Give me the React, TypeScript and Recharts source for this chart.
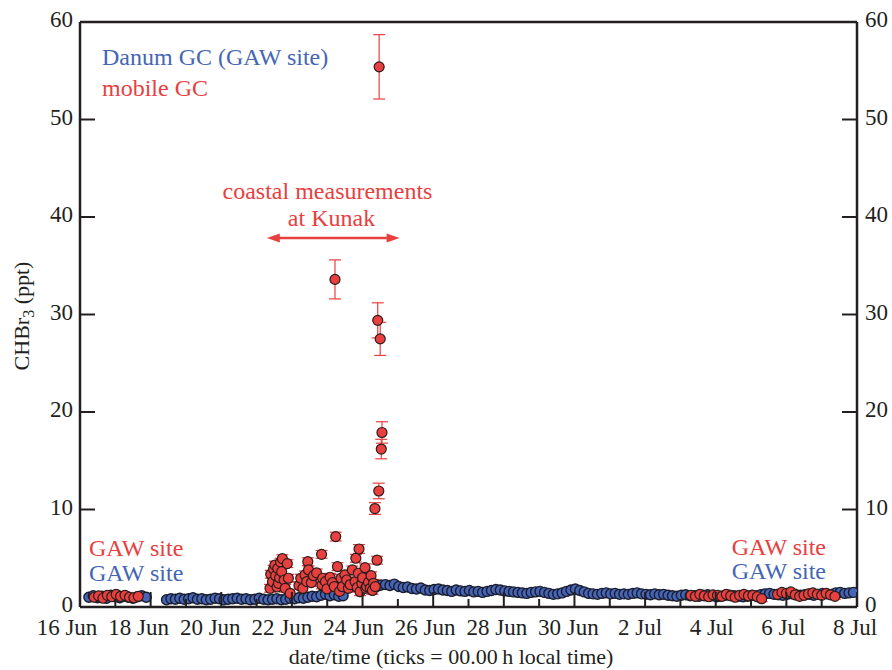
import { ScatterChart, Scatter, XAxis, YAxis, ErrorBar, ReferenceLine } from 'recharts';

const FONT = '"Liberation Serif", "Times New Roman", serif';
const INK = '#231f20';
const BLUE = '#4565b8';
const BLUE_TEXT = '#4466b3';
const RED = '#e8403f';

// x axis: days since 16 Jun 00:00 local time
const dayTicks = [0, 1, 2, 3, 4, 5, 6, 7, 8, 9, 10, 11, 12, 13, 14, 15, 16, 17, 18, 19, 20, 21, 22];
const dayLabels: Record<number, string> = {
  0: '16 Jun', 2: '18 Jun', 4: '20 Jun', 6: '22 Jun', 8: '24 Jun', 10: '26 Jun',
  12: '28 Jun', 14: '30 Jun', 16: '2 Jul', 18: '4 Jul', 20: '6 Jul', 22: '8 Jul',
};
const yTicks = [0, 10, 20, 30, 40, 50, 60];

// sampling interval of the GC runs (3 h, in days)
const STEP = 1 / 8;

// Danum GC (GAW site), runs of samples: start day + values (ppt)
const danumStart1 = 0.25;
const danumRun1 = [1.0, 1.15, 0.95, 1.1, 0.9, 1.2, 1.05, 0.95, 1.1, 1.0, 0.9, 1.05, 1.15, 1.0];
const danumStart2 = 2.45;
const danumRun2 = [
  0.75, 0.85, 0.8, 0.9, 0.8, 0.85, 0.95, 0.8,
  0.85, 0.75, 0.8, 0.9, 0.85, 0.75, 0.8, 0.85,
  0.9, 0.8, 0.85, 0.75, 0.8, 0.9, 0.8, 0.75,
  0.8, 0.85, 0.75, 0.8, 0.9, 0.85, 0.95, 0.9,
  1.0, 1.1, 1.05, 1.2, 1.3, 1.15, 1.25, 1.1,
  1.15,
];
const danumStart3 = 8.4;
const danumRun3 = [
  2.1, 2.25, 2.3, 2.2, 2.35, 2.1, 2.0, 2.05,
  1.9, 1.85, 1.95, 1.75, 1.7, 1.8, 1.85, 1.75,
  1.7, 1.6, 1.75, 1.65, 1.6, 1.7, 1.55, 1.6,
  1.5, 1.6, 1.7, 1.8, 1.75, 1.65, 1.6, 1.55,
  1.5, 1.45, 1.4, 1.5, 1.55, 1.6, 1.5, 1.4,
  1.3, 1.35, 1.45, 1.6, 1.75, 1.85, 1.7, 1.55,
  1.4, 1.35, 1.3, 1.4, 1.45, 1.35, 1.4, 1.3,
  1.35, 1.3, 1.4, 1.45, 1.35, 1.3, 1.25, 1.35,
  1.25, 1.3, 1.2, 1.15, 1.1, 1.2, 1.25, 1.15,
  1.15, 1.1, 1.2, 1.25, 1.15, 1.05, 1.1, 1.2,
  1.2, 1.15, 1.1, 1.05, 1.1, 1.2, 1.15, 1.25,
  1.35, 1.4, 1.3, 1.25, 1.2, 1.3, 1.35, 1.25,
  1.2, 1.25, 1.3, 1.2, 1.3, 1.4, 1.35, 1.3,
  1.45, 1.5, 1.4, 1.45, 1.5,
];

// mobile GC while at the GAW site
const GAW_ERR = 0.3;
const mobileStart1 = 0.4;
const mobileRun1 = [1.0, 1.15, 0.9, 1.2, 1.05, 1.3, 1.1, 1.2, 1.0, 0.95, 1.1];
const mobileStart2 = 17.3;
const mobileRun2 = [1.2, 1.1, 1.3, 1.15, 1.05, 1.25, 1.2, 1.1, 1.3, 1.15, 1.0, 1.2, 1.3, 1.15, 1.2, 1.05, 0.85];
const mobileStart3 = 19.75;
const mobileRun3 = [1.3, 1.5, 1.4, 1.55, 1.25, 1.1, 1.2, 1.35, 1.45, 1.3, 1.2, 1.4, 1.25, 1.1];

// mobile GC, coastal measurements at Kunak
const coastalTimes = [
  5.38, 5.40, 5.45, 5.48, 5.52, 5.54, 5.58, 5.60, 5.62, 5.65, 5.68, 5.71, 5.73, 5.78,
  5.81, 5.87, 5.90, 5.95, 6.20, 6.25, 6.31, 6.37, 6.42, 6.45, 6.47, 6.55, 6.61, 6.70,
  6.84, 6.85, 6.87, 6.95, 6.99, 7.08, 7.15, 7.20, 7.24, 7.29, 7.35, 7.39, 7.43, 7.50,
  7.55, 7.60, 7.65, 7.71, 7.79, 7.81, 7.85, 7.88, 7.90, 7.93, 7.98, 8.00, 8.07, 8.09,
  8.12, 8.17, 8.22, 8.24, 8.28, 8.31, 8.36, 8.41,
  7.22, 8.35, 8.43, 8.46, 8.47, 8.50, 8.53, 8.55,
];
const coastalValues = [
  1.92, 3.36, 2.6, 3.87, 4.3, 3.21, 2.05, 3.97, 2.43, 3.0, 4.6, 3.62, 4.96, 2.77,
  1.92, 4.45, 2.95, 1.4, 2.2, 2.95, 1.92, 3.29, 2.6, 4.65, 3.8, 2.5, 3.21, 3.5,
  5.4, 2.26, 2.95, 2.6, 1.85, 3.05, 2.5, 2.08, 7.22, 4.14, 1.6, 2.95, 2.08, 3.3,
  2.77, 1.92, 2.3, 3.8, 2.6, 5.0, 2.0, 3.46, 5.95, 1.57, 2.43, 3.0, 4.03, 1.92,
  2.1, 2.54, 1.92, 3.21, 1.7, 2.43, 2.1, 4.8,
  33.6, 10.1, 29.4, 11.9, 55.4, 27.5, 16.2, 17.9,
];
const coastalErrors = [
  0.4, 0.4, 0.4, 0.4, 0.4, 0.4, 0.4, 0.4, 0.4, 0.4, 0.4, 0.4, 0.4, 0.4,
  0.4, 0.4, 0.4, 0.4, 0.4, 0.4, 0.4, 0.4, 0.4, 0.4, 0.4, 0.4, 0.4, 0.4,
  0.4, 0.4, 0.4, 0.4, 0.4, 0.4, 0.4, 0.4, 0.45, 0.4, 0.4, 0.4, 0.4, 0.4,
  0.4, 0.4, 0.4, 0.4, 0.4, 0.4, 0.4, 0.4, 0.45, 0.4, 0.4, 0.4, 0.4, 0.4,
  0.4, 0.4, 0.4, 0.4, 0.4, 0.4, 0.4, 0.4,
  2.0, 0.6, 1.8, 0.8, 3.3, 1.7, 1.0, 1.1,
];

const run = (start: number, values: number[], err?: number) =>
  values.map((v, i) => ({ t: start + i * STEP, v, e: err ?? 0 }));

const danumData = [
  ...run(danumStart1, danumRun1),
  ...run(danumStart2, danumRun2),
  ...run(danumStart3, danumRun3),
];

const mobileData = [
  ...run(mobileStart1, mobileRun1, GAW_ERR),
  ...run(mobileStart2, mobileRun2, GAW_ERR),
  ...run(mobileStart3, mobileRun3, GAW_ERR),
  ...coastalTimes.map((t, i) => ({ t, v: coastalValues[i], e: coastalErrors[i] })),
];

const BlueDot = (p: any) => (
  <circle cx={p.cx} cy={p.cy} r={5} fill={BLUE} stroke="#1b1d2c" strokeWidth={1.4} />
);
const RedDot = (p: any) => (
  <circle cx={p.cx} cy={p.cy} r={5} fill={RED} stroke="#2a1c1c" strokeWidth={1.2} />
);

const BottomTick = (props: any) => {
  const { x, y, payload } = props;
  const d = payload.value;
  const major = d % 2 === 0;
  // labels in the original sit a little left of their ticks, more so on the left
  const shift = -13 + d * 0.5;
  return (
    <g>
      <line x1={x} x2={x} y1={y} y2={y - (major ? 15 : 8)} stroke={INK} strokeWidth={2} />
      {major && (
        <text x={x + shift} y={y + 28} textAnchor="middle" fontFamily={FONT} fontSize={23} fill={INK}>
          {dayLabels[d]}
        </text>
      )}
    </g>
  );
};

const TopTick = (props: any) => {
  const { x, y, payload } = props;
  const major = payload.value % 2 === 0;
  return <line x1={x} x2={x} y1={y} y2={y + (major ? 15 : 8)} stroke={INK} strokeWidth={2} />;
};

const LeftTick = (props: any) => {
  const { x, y, payload } = props;
  return (
    <g>
      <line x1={x} x2={x + 15} y1={y} y2={y} stroke={INK} strokeWidth={2} />
      <text x={x - 7} y={y + 5} textAnchor="end" fontFamily={FONT} fontSize={23} fill={INK}>
        {payload.value}
      </text>
    </g>
  );
};

const RightTick = (props: any) => {
  const { x, y, payload } = props;
  return (
    <g>
      <line x1={x} x2={x - 15} y1={y} y2={y} stroke={INK} strokeWidth={2} />
      <text x={x + 8} y={y + 5} textAnchor="start" fontFamily={FONT} fontSize={23} fill={INK}>
        {payload.value}
      </text>
    </g>
  );
};

const DoubleArrow = (p: any) => {
  const { x1, y1, x2, y2 } = p;
  const len = 13;
  const hw = 4.5;
  return (
    <g>
      <line x1={x1 + 6} y1={y1} x2={x2 - 6} y2={y2} stroke={RED} strokeWidth={2.5} />
      <polygon points={`${x1},${y1} ${x1 + len},${y1 - hw} ${x1 + len},${y1 + hw}`} fill={RED} />
      <polygon points={`${x2},${y2} ${x2 - len},${y2 - hw} ${x2 - len},${y2 + hw}`} fill={RED} />
    </g>
  );
};

const axisLine = { stroke: INK, strokeWidth: 2.5 };

export default function App() {
  return (
    <div style={{ position: 'absolute', left: 0, top: 0, width: 892, height: 670, background: '#fff' }}>
      <ScatterChart
        width={892}
        height={670}
        margin={{ top: 0, right: 0, bottom: 0, left: 0 }}
        style={{ fontFamily: FONT }}
      >
        <XAxis
          type="number"
          dataKey="t"
          domain={[0, 22]}
          ticks={dayTicks}
          interval={0}
          height={63}
          tickSize={0}
          tickMargin={0}
          tickLine={false}
          axisLine={axisLine}
          tick={<BottomTick />}
          allowDataOverflow
        />
        <XAxis
          xAxisId="top"
          orientation="top"
          type="number"
          domain={[0, 22]}
          ticks={dayTicks}
          interval={0}
          height={22}
          tickSize={0}
          tickMargin={0}
          tickLine={false}
          axisLine={axisLine}
          tick={<TopTick />}
          allowDataOverflow
        />
        <YAxis
          type="number"
          dataKey="v"
          domain={[0, 60]}
          ticks={yTicks}
          interval={0}
          width={80}
          tickSize={0}
          tickMargin={0}
          tickLine={false}
          axisLine={axisLine}
          tick={<LeftTick />}
          allowDataOverflow
        />
        <YAxis
          yAxisId="right"
          orientation="right"
          type="number"
          domain={[0, 60]}
          ticks={yTicks}
          interval={0}
          width={35}
          tickSize={0}
          tickMargin={0}
          tickLine={false}
          axisLine={axisLine}
          tick={<RightTick />}
          allowDataOverflow
        />
        <Scatter data={danumData} shape={BlueDot} isAnimationActive={false} />
        <Scatter data={mobileData} shape={RedDot} isAnimationActive={false}>
          <ErrorBar dataKey="e" direction="y" width={6} stroke={RED} strokeWidth={1.2} isAnimationActive={false} />
        </Scatter>
        <ReferenceLine
          segment={[{ x: 5.29, y: 37.85 }, { x: 9.05, y: 37.85 }]}
          shape={DoubleArrow}
        />
      </ScatterChart>
      <svg
        width={892}
        height={670}
        style={{ position: 'absolute', left: 0, top: 0, pointerEvents: 'none' }}
        fontFamily={FONT}
        fontSize={24}
      >
        <text x={102} y={65} fill={BLUE_TEXT}>Danum GC (GAW site)</text>
        <text x={102} y={96} fill={RED}>mobile GC</text>
        <text x={327.5} y={199} textAnchor="middle" fill={RED}>coastal measurements</text>
        <text x={331.5} y={226} textAnchor="middle" fill={RED}>at Kunak</text>
        <text x={89} y={556} fill={RED}>GAW site</text>
        <text x={89} y={581} fill={BLUE_TEXT}>GAW site</text>
        <text x={826} y={555} textAnchor="end" fill={RED}>GAW site</text>
        <text x={826} y={579} textAnchor="end" fill={BLUE_TEXT}>GAW site</text>
        <text x={451} y={664} textAnchor="middle" fill={INK} fontSize={22}>
          date/time (ticks = 00.00{'\u2009'}h local time)
        </text>
        <text transform="translate(29,316) rotate(-90)" textAnchor="middle" fill={INK} fontSize={22}>
          CHBr<tspan dy={5} fontSize={16}>3</tspan>
          <tspan dy={-5}> (ppt)</tspan>
        </text>
      </svg>
    </div>
  );
}
